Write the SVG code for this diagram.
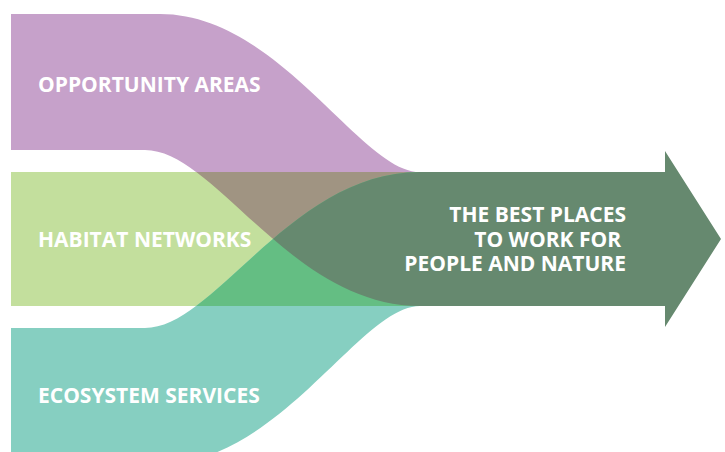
<svg xmlns="http://www.w3.org/2000/svg" width="725" height="452" viewBox="0 0 725 452">
  <style>
    .label { font-family: "Open Sans", "Liberation Sans", sans-serif; font-weight: 700; font-size: 21px; fill: #FFFFFF; }
    .end { text-anchor: end; }
  </style>
  <defs>
    <!-- band outlines, shared by fills and clips -->
    <path id="purple-band" d="M11,14 H160 C280,14 360,172 420,172 L420,306 C291,306 215,150 145,150 H11 Z"/>
    <path id="teal-band" d="M11,464 H160 C280,464 360,306 420,306 L420,172 C291,172 215,328 145,328 H11 Z"/>
    <clipPath id="clip-green"><rect x="11" y="172" width="410" height="134"/></clipPath>
    <clipPath id="clip-teal"><use href="#teal-band"/></clipPath>
  </defs>

  <!-- input streams -->
  <g id="opportunity-areas">
    <use href="#purple-band" fill="#C6A1CA"/>
  </g>
  <g id="habitat-networks">
    <rect x="11" y="172" width="410" height="134" fill="#C3DF9D"/>
  </g>
  <g id="ecosystem-services">
    <use href="#teal-band" fill="#86CFC1"/>
  </g>

  <!-- where the streams cross and merge -->
  <g id="connectors">
    <g clip-path="url(#clip-green)">
      <use href="#purple-band" fill="#A09482"/>
      <use href="#teal-band" fill="#64BE83"/>
      <g clip-path="url(#clip-teal)">
        <use href="#purple-band" fill="#66896F"/>
      </g>
    </g>
  </g>

  <!-- outcome arrow -->
  <g id="best-places">
    <path d="M419,172 H665 V151 L721,239 L665,327 V306 H419 Z" fill="#66896F"/>
    <text class="label end" x="626" y="222">THE BEST PLACES</text>
    <text class="label end" x="621" y="247">TO WORK FOR</text>
    <text class="label end" x="626" y="271">PEOPLE AND NATURE</text>
  </g>

  <!-- stream labels -->
  <text class="label" x="38" y="92">OPPORTUNITY AREAS</text>
  <text class="label" x="38" y="247">HABITAT NETWORKS</text>
  <text class="label" x="38" y="403">ECOSYSTEM SERVICES</text>
</svg>
